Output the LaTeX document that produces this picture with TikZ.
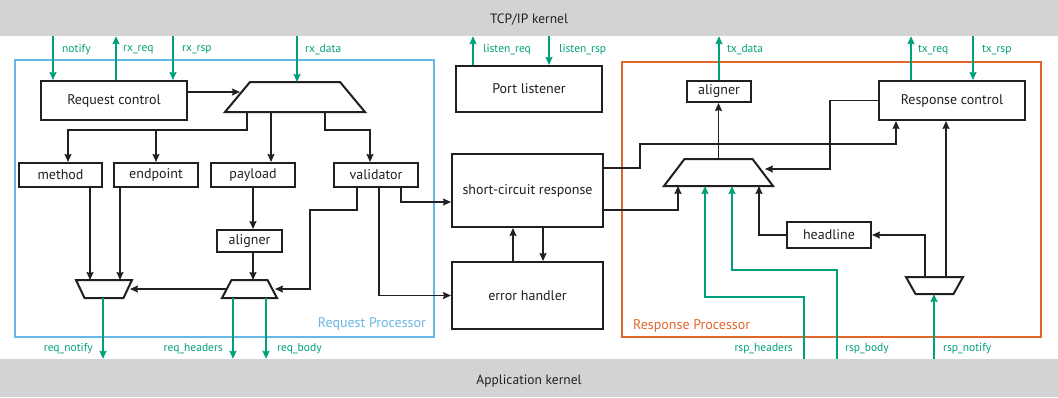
\documentclass[tikz,border=0pt]{standalone}
\usepackage{fontspec}
\setmainfont{PT Sans}
\usepackage{tikz}
\usetikzlibrary{arrows.meta,positioning,calc}
\usepackage{xcolor}
\definecolor{sigGreen}{HTML}{00A07A}
\definecolor{reqBlue}{HTML}{66B6E6}
\definecolor{rspOrange}{HTML}{E0662C}
\definecolor{kernelGray}{HTML}{D1D3D4}
\definecolor{inkGray}{HTML}{231F20}

\begin{document}
\begin{tikzpicture}[
        x=1pt,
        y=-1pt,
        kernel/.style={
            draw=none,
            fill=kernelGray,
            minimum width=1058pt,
            inner sep=0pt,
            text=inkGray,
            font=\fontsize{13.5}{15}\selectfont
        },
        unit/.style={
            draw=inkGray,
            fill=white,
            line width=2pt,
            inner sep=0pt,
            text=inkGray,
            font=\fontsize{14}{16}\selectfont
        },
        mux/.style={
            draw=none,
            inner sep=0pt,
            outer sep=0pt
        },
        muxline/.style={
            draw=inkGray,
            fill=white,
            line width=2pt,
            line join=miter
        },
        flow/.style={
            draw=inkGray,
            line width=1.4pt,
            -{Stealth[length=8pt,width=7pt,inset=1pt]}
        },
        sigflow/.style={
            draw=sigGreen,
            line width=2pt,
            -{Stealth[length=8pt,width=7pt,inset=1pt]}
        },
        sig/.style={
            text=sigGreen,
            inner sep=0pt,
            font=\fontsize{11.5}{13}\selectfont
        },
        procname/.style={
            inner sep=0pt,
            font=\fontsize{14}{16}\selectfont
        },
        procframe/.style={
            line width=2.2pt
        }
    ]

    \useasboundingbox (0,0) rectangle (1058,397);

    \node[kernel, minimum height=36pt, text height=12pt] (tcp) at (529,18) {TCP/IP kernel};
    \node[kernel, minimum height=38pt, text height=15pt] (app) at (529,378) {Application kernel};

    \draw[procframe, draw=reqBlue] (15,60) rectangle (434,337);
    \draw[procframe, draw=rspOrange] (622,62) rectangle (1041,337);
    \node[procname, text=reqBlue, anchor=east] (reqname) at (426,324) {Request Processor};
    \node[procname, text=rspOrange, anchor=west] (rspname) at (633,326) {Response Processor};

    \node[unit, minimum width=146pt, minimum height=39pt] (reqctl) at (114,100.5) {Request control};
    \node[unit, minimum width=83pt, minimum height=24pt] (method) at (60.5,175) {method};
    \node[unit, minimum width=84pt, minimum height=24pt] (endpoint) at (156,175) {endpoint};
    \node[unit, minimum width=84pt, minimum height=24pt] (payload) at (253,175) {payload};
    \node[unit, minimum width=84pt, minimum height=24pt] (validator) at (376,175) {validator};
    \node[unit, minimum width=65pt, minimum height=22pt] (reqalign) at (249.5,241) {aligner};
    \node[unit, minimum width=146pt, minimum height=46pt] (portlis) at (529,89) {Port listener};
    \node[unit, minimum width=151pt, minimum height=73pt] (shortcirc) at (527.5,190.5) {short-circuit response};
    \node[unit, minimum width=151pt, minimum height=67pt] (errhand) at (527.5,295.5) {error handler};
    \node[unit, minimum width=64pt, minimum height=21pt] (rspalign) at (719,91.5) {aligner};
    \node[unit, minimum width=146pt, minimum height=39pt] (rspctl) at (952,100.5) {Response control};
    \node[unit, minimum width=84pt, minimum height=26pt] (headline) at (829,235) {headline};

    \node[mux, minimum width=140pt, minimum height=30pt] (reqsplit) at (295,97) {};
    \node[mux, minimum width=56pt, minimum height=18pt] (notifymux) at (104,289) {};
    \node[mux, minimum width=55pt, minimum height=18pt] (reqmux) at (249.5,289) {};
    \node[mux, minimum width=109pt, minimum height=27pt] (rspmux) at (718.5,172.5) {};
    \node[mux, minimum width=57pt, minimum height=17pt] (notesel) at (934.5,285.5) {};

    \foreach \m/\t/\b in {reqsplit/25/0, notifymux/0/8.5, reqmux/9.5/0, rspmux/20.5/0, notesel/0/9.5}{
        \draw[muxline] ([xshift=\b pt]\m.south west) -- ([xshift=\t pt]\m.north west)
            -- ([xshift=-\t pt]\m.north east) -- ([xshift=-\b pt]\m.south east) -- cycle;
    }

    \draw[flow] ([yshift=8.5pt]reqctl.east) -- ([xshift=15pt,yshift=5pt]reqsplit.west);
    \coordinate (split) at ([xshift=-48pt,yshift=-18pt]reqsplit.south);
    \draw[flow] ([xshift=-48pt]reqsplit.south) -- (split) -| ([xshift=7.5pt]method.north);
    \draw[flow] (split -| endpoint.north) -- (endpoint.north);
    \draw[flow] ([xshift=-24pt]reqsplit.south) -- ([xshift=-24pt]reqsplit.south |- payload.north);
    \draw[flow] ([xshift=30pt]reqsplit.south) -- ++(0,18) -| ([xshift=-6pt]validator.north);
    \draw[flow] ([xshift=29.5pt]method.south) -- ([xshift=29.5pt]method.south |- notifymux.north);
    \draw[flow] ([xshift=-36pt]endpoint.south) -- ([xshift=-36pt]endpoint.south |- notifymux.north);
    \draw[flow] (payload.south) -- (payload.south |- reqalign.north);
    \draw[flow] (payload.south |- reqalign.south) -- (payload.south |- reqmux.north);
    \draw[flow] ([xshift=4.5pt]reqmux.west) -- ([xshift=-2pt]notifymux.east);
    \draw[flow] ([xshift=-19pt]validator.south) -- ++(0,22) -| (310,289) -- ([xshift=-2pt]reqmux.east);
    \draw[flow] ([xshift=25pt]validator.south) |- ([yshift=-11.5pt]shortcirc.west);
    \draw[flow] ([xshift=3pt]validator.south) |- (errhand.west);
    \draw[flow] ([xshift=-14.5pt]errhand.north) -- ([xshift=-14.5pt]shortcirc.south);
    \draw[flow] ([xshift=15.5pt]shortcirc.south) -- ([xshift=15.5pt]errhand.north);
    \draw[flow] ([yshift=22.5pt]shortcirc.east) -- (640,168) -- (640,144) -| ([xshift=-56pt]rspctl.south);
    \draw[flow] ([yshift=-19.5pt]shortcirc.east) -| ([xshift=-40.5pt]rspmux.south);
    \draw[flow] (rspmux.north) -- (rspmux.north |- rspalign.south);
    \draw[flow] (rspctl.west) -- (830,100.5) |- ([xshift=-8pt,yshift=3.5pt]rspmux.east);
    \draw[flow] (headline.west) -| ([xshift=40.5pt]rspmux.south);
    \draw[flow] ([xshift=-9.5pt]notesel.north) |- (headline.east);
    \draw[flow] ([xshift=11.5pt]notesel.north) -- ([xshift=11.5pt]notesel.north |- rspctl.south);

    \draw[sigflow] ([xshift=-61pt]reqctl.north |- tcp.south) -- ([xshift=-61pt]reqctl.north);
    \draw[sigflow] ([xshift=2pt]reqctl.north) -- ([xshift=2pt]reqctl.north |- tcp.south);
    \draw[sigflow] ([xshift=59pt]reqctl.north |- tcp.south) -- ([xshift=59pt]reqctl.north);
    \draw[sigflow] ([xshift=2pt]reqsplit.north |- tcp.south) -- ([xshift=2pt]reqsplit.north);
    \draw[sigflow] ([xshift=-56pt]portlis.north) -- ([xshift=-56pt]portlis.north |- tcp.south);
    \draw[sigflow] ([xshift=20pt]portlis.north |- tcp.south) -- ([xshift=20pt]portlis.north);
    \draw[sigflow] (rspalign.north) -- (rspalign.north |- tcp.south);
    \draw[sigflow] ([xshift=-41pt]rspctl.north) -- ([xshift=-41pt]rspctl.north |- tcp.south);
    \draw[sigflow] ([xshift=21pt]rspctl.north |- tcp.south) -- ([xshift=21pt]rspctl.north);
    \draw[sigflow] ([xshift=-1pt]notifymux.south) -- ([xshift=-1pt]notifymux.south |- app.north);
    \draw[sigflow] ([xshift=-16.5pt]reqmux.south) -- ([xshift=-16.5pt]reqmux.south |- app.north);
    \draw[sigflow] ([xshift=16.5pt]reqmux.south) -- ([xshift=16.5pt]reqmux.south |- app.north);
    \draw[sigflow] ([xshift=275pt]app.north) |- ([xshift=-13.5pt,yshift=-111pt]rspmux.south) -- ([xshift=-13.5pt]rspmux.south);
    \draw[sigflow] ([xshift=308pt]app.north) |- ([xshift=13.5pt,yshift=-84pt]rspmux.south) -- ([xshift=13.5pt]rspmux.south);
    \draw[sigflow] ([xshift=405pt]app.north) -- ([xshift=405pt]app.north |- notesel.south);

    \node[sig, anchor=west] (lnotify) at (62,50) {notify};
    \node[sig, anchor=west] (lrxreq) at (123,50) {rx\_req};
    \node[sig, anchor=west] (lrxrsp) at (182,50) {rx\_rsp};
    \node[sig, anchor=west] (lrxdata) at (305,50) {rx\_data};
    \node[sig, anchor=west] (llisreq) at (483,50) {listen\_req};
    \node[sig, anchor=west] (llisrsp) at (559,50) {listen\_rsp};
    \node[sig, anchor=west] (ltxdata) at (727,50) {tx\_data};
    \node[sig, anchor=west] (ltxreq) at (918,50) {tx\_req};
    \node[sig, anchor=west] (ltxrsp) at (982,50) {tx\_rsp};
    \node[sig, anchor=east] (lreqnot) at (93,349) {req\_notify};
    \node[sig, anchor=east] (lreqhdr) at (223,349) {req\_headers};
    \node[sig, anchor=west] (lreqbody) at (277,349) {req\_body};
    \node[sig, anchor=east] (lrsphdr) at (793,349) {rsp\_headers};
    \node[sig, anchor=west] (lrspbody) at (845,349) {rsp\_body};
    \node[sig, anchor=west] (lrspnot) at (943,349) {rsp\_notify};

\end{tikzpicture}
\end{document}
